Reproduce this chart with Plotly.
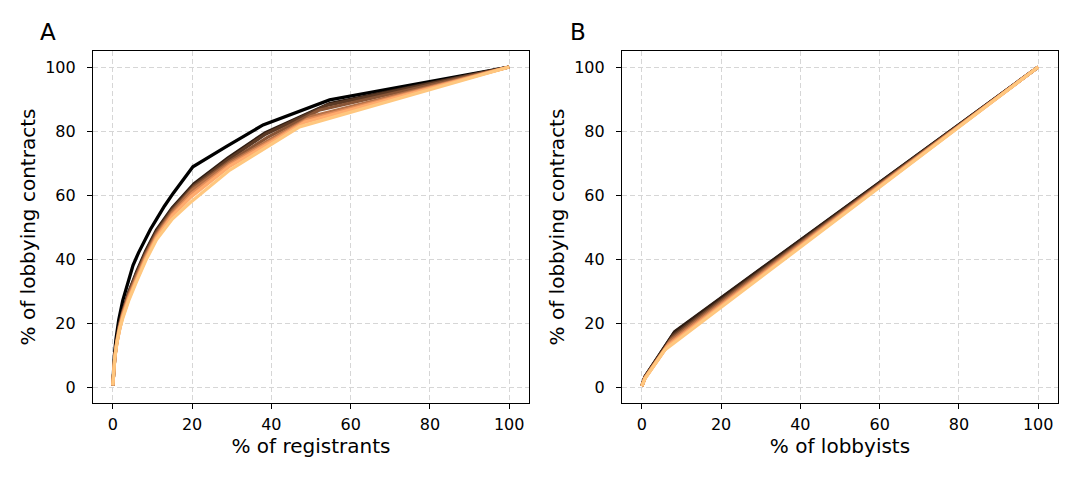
import plotly.graph_objects as go

# Panel A: % of registrants vs % of lobbying contracts (one series per year, dark -> light)
reg_x = [
    [0, 0.15, 0.4, 0.8, 1.5, 2.5, 3.7, 5.1, 6.5, 8, 9.5, 11, 13, 15.2, 17.5, 20.2, 28.6, 37.9, 54.7, 100],
    [0, 0.2, 0.5, 1.0, 1.7, 2.5, 4, 6, 8.3, 11, 15, 20.5, 29, 38.5, 54.7, 100],
    [0, 0.2, 0.5, 1.0, 1.7, 2.5, 4, 6, 8.3, 11, 15, 20.5, 29, 38.5, 54, 100],
    [0, 0.2, 0.5, 1.0, 1.7, 2.5, 4, 6, 8.3, 11, 15, 20.5, 29.5, 39, 52, 100],
    [0, 0.2, 0.5, 1.0, 1.7, 2.5, 4, 6, 8.3, 11, 15, 20, 29.5, 40, 50, 100],
    [0, 0.2, 0.5, 1.0, 1.7, 2.5, 4, 6, 8.3, 11, 15, 20, 29.5, 40, 49, 100],
    [0, 0.2, 0.5, 1.0, 1.7, 2.5, 4, 6, 8.3, 11, 15, 19.8, 29.5, 40, 48.5, 100],
    [0, 0.2, 0.5, 1.0, 1.7, 2.5, 4, 6, 8.3, 11, 15, 19.4, 29.5, 47.1, 100],
]
reg_y = [
    [0.5, 5, 10, 15, 21, 27, 32.5, 38, 42, 45.8, 49.3, 52.4, 56.5, 60.5, 64.5, 68.8, 75.1, 81.9, 89.7, 100],
    [0.5, 5, 9.5, 14.5, 19.5, 23.5, 29.5, 36, 42.5, 49, 56, 63.5, 71.5, 79.5, 88.6, 100],
    [0.5, 5, 9.5, 14.5, 19.5, 23.5, 29.5, 35.5, 42, 48.5, 55.5, 63, 71, 79, 88, 100],
    [0.5, 5, 9.5, 14.2, 19, 23, 29, 35, 41.5, 48, 55, 62.5, 70.5, 78, 86.5, 100],
    [0.5, 5, 9.3, 14, 18.8, 22.8, 28.5, 34.5, 41, 47.5, 54.5, 61.5, 70, 77.5, 84.5, 100],
    [0.5, 5, 9.2, 13.8, 18.5, 22.5, 28, 34, 40.5, 47, 54, 60.5, 69.5, 77, 83.5, 100],
    [0.5, 5, 9.1, 13.6, 18.2, 22, 27.5, 33.5, 40, 46.5, 53.5, 59.5, 69, 76.5, 82.8, 100],
    [0.5, 5, 9, 13.5, 18, 21.5, 27, 33, 39.5, 46, 52.5, 57.5, 67.8, 81.3, 100],
]

# Panel B: % of lobbyists vs % of lobbying contracts
lob_x = [
    [0, 0.8, 8.2, 100],
    [0, 0.8, 8.3, 100],
    [0, 0.8, 8.0, 100],
    [0, 0.8, 7.6, 100],
    [0, 0.8, 7.2, 100],
    [0, 0.8, 6.8, 100],
    [0, 0.8, 6.3, 100],
    [0, 0.8, 5.8, 100],
]
lob_y = [
    [0.3, 3.2, 17.0, 100],
    [0.3, 3.2, 17.3, 100],
    [0.3, 3.1, 16.2, 100],
    [0.3, 3.0, 15.3, 100],
    [0.3, 2.9, 14.4, 100],
    [0.3, 2.8, 13.5, 100],
    [0.3, 2.7, 12.5, 100],
    [0.3, 2.6, 11.6, 100],
]

tick_vals = [0, 20, 40, 60, 80, 100]


def copper(t):
    r = min(1.0, 1.25 * t)
    g = 0.7812 * t
    b = 0.4975 * t
    return "rgb(%d,%d,%d)" % (round(r * 255), round(g * 255), round(b * 255))


n = len(reg_x)
fig = go.Figure()
for i in range(n):
    c = copper(i / (n - 1))
    fig.add_trace(go.Scatter(x=reg_x[i], y=reg_y[i], mode="lines",
                             line=dict(color=c, width=3.3), xaxis="x", yaxis="y",
                             showlegend=False, hoverinfo="skip"))
for i in range(n):
    c = copper(i / (n - 1))
    fig.add_trace(go.Scatter(x=lob_x[i], y=lob_y[i], mode="lines",
                             line=dict(color=c, width=3.3), xaxis="x2", yaxis="y2",
                             showlegend=False, hoverinfo="skip"))

font = "DejaVu Sans, Liberation Sans, sans-serif"
ax_common = dict(range=[-5, 105], tickvals=tick_vals, showline=True, mirror=True,
                 linecolor="black", linewidth=1.2, ticks="outside", ticklen=5,
                 tickcolor="black", tickwidth=1.2, showgrid=True, gridcolor="#d6d6d6",
                 griddash="5px,3px", gridwidth=1, zeroline=False,
                 tickfont=dict(family=font, size=16, color="black"))

OFF = 8  # page body margin
L, R, T, B = 93 - OFF, 529 - OFF, 51 - OFF, 403 - OFF
L2, R2 = 622 - OFF, 1058 - OFF

fig.update_layout(
    width=1080, height=480,
    margin=dict(l=0, r=0, t=0, b=0),
    paper_bgcolor="white", plot_bgcolor="white",
    font=dict(family=font, color="black"),
    xaxis=dict(domain=[L / 1080, R / 1080], anchor="y", ticklabelstandoff=2,
               title=dict(text="% of registrants", font=dict(size=20), standoff=3), **ax_common),
    yaxis=dict(domain=[1 - B / 480, 1 - T / 480], anchor="x", ticklabelstandoff=8,
               title=dict(text="% of lobbying contracts", font=dict(size=20), standoff=4), **ax_common),
    xaxis2=dict(domain=[L2 / 1080, R2 / 1080], anchor="y2", ticklabelstandoff=2,
                title=dict(text="% of lobbyists", font=dict(size=20), standoff=3), **ax_common),
    yaxis2=dict(domain=[1 - B / 480, 1 - T / 480], anchor="x2", ticklabelstandoff=8,
                title=dict(text="% of lobbying contracts", font=dict(size=20), standoff=4), **ax_common),
    annotations=[
        dict(text="A", x=(48 - OFF) / 1080, y=1 - (32 - OFF) / 480, xref="paper", yref="paper",
             showarrow=False, font=dict(size=23, family=font, color="black"),
             xanchor="center", yanchor="middle"),
        dict(text="B", x=(578 - OFF) / 1080, y=1 - (32 - OFF) / 480, xref="paper", yref="paper",
             showarrow=False, font=dict(size=23, family=font, color="black"),
             xanchor="center", yanchor="middle"),
    ],
)

fig.write_html("out.html")
